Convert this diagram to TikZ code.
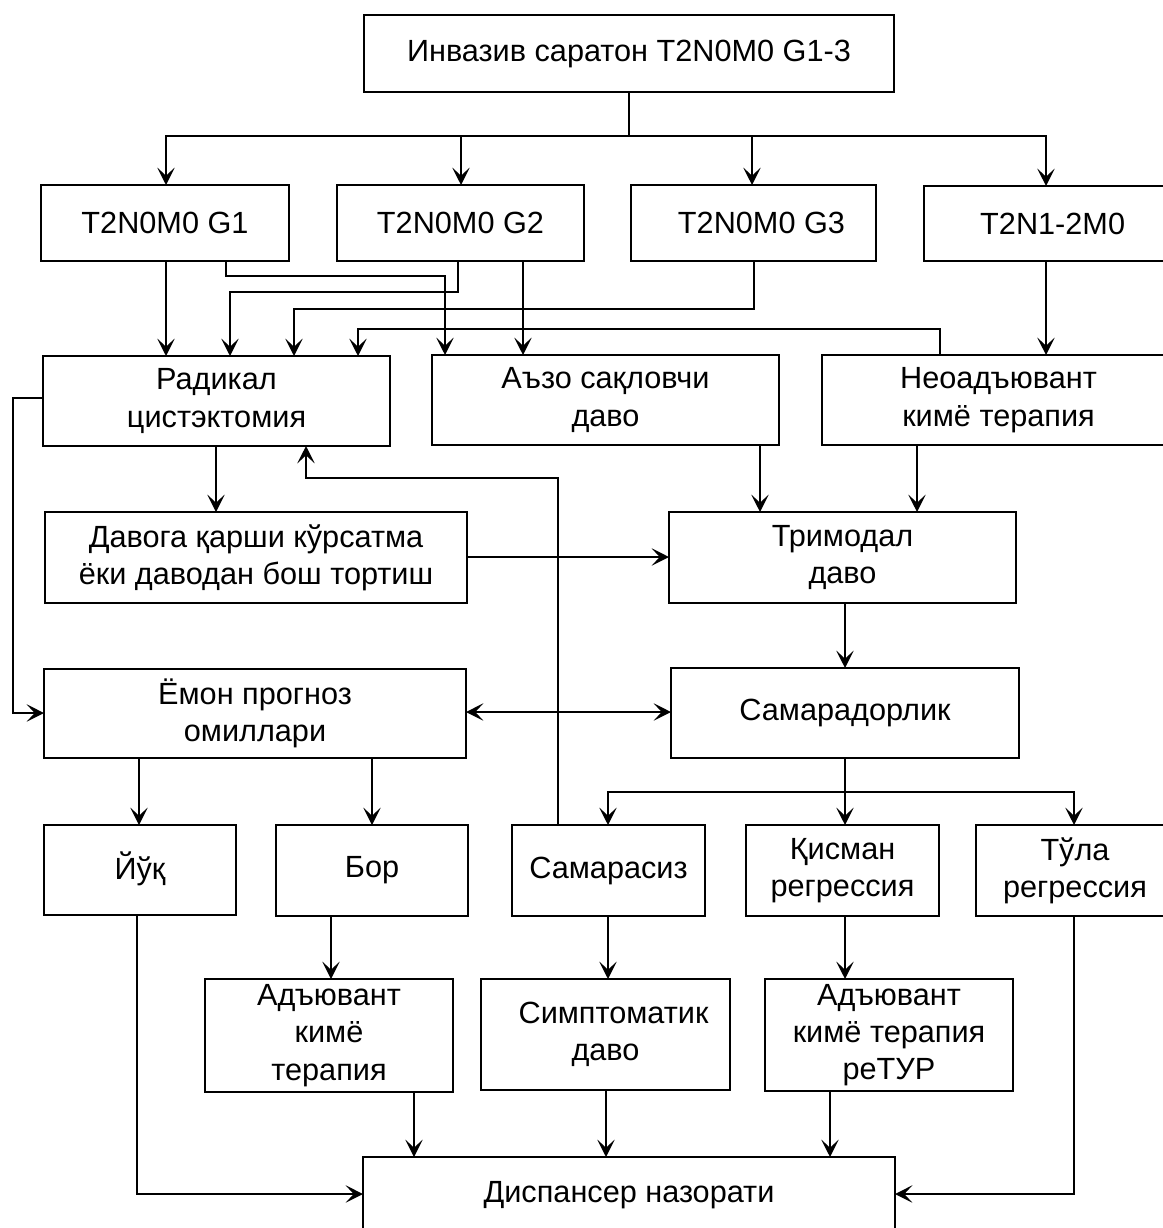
\documentclass[tikz,border=0pt]{standalone}
\usepackage{fontspec}
\setmainfont{Liberation Sans}
\usetikzlibrary{arrows.meta}
\newcommand\bx[7][]{\node[box,#1,minimum width={(#5-#3)*0.75pt},minimum height={(#6-#4)*0.75pt}] (#2) at ({(#3+#5)/2},{(#4+#6)/2}) {#7};}
\begin{document}
\begin{tikzpicture}[x=0.75pt,y=-0.75pt,
  tip/.tip={Stealth[length=13pt,width=13pt,inset=6pt]},
  box/.style={draw,line width=1.9pt,inner sep=0pt,outer sep=0pt,align=center,
    font=\fontsize{23pt}{28pt}\selectfont},
  arr/.style={line width=1.7pt,-tip},
  arrtwo/.style={line width=1.7pt,tip-tip},
  ln/.style={line width=1.7pt}]
\useasboundingbox (0,0) rectangle (1163,1228);
\clip (0,0) rectangle (1163,1228);
\bx{top}{364}{15}{894}{92}{Инвазив саратон T2N0M0 G1-3}
\bx{g1}{41}{185}{289}{261}{T2N0M0 G1}
\bx{g2}{337}{185}{584}{261}{T2N0M0 G2}
\bx{g3}{631}{185}{876}{261}{\hspace*{12pt}T2N0M0 G3}
\bx{n12}{924}{186}{1168}{261}{\hspace*{10pt}T2N1-2M0}
\bx{rad}{43}{356}{390}{446}{Радикал\\цистэктомия}
\bx{azo}{432}{355}{779}{445}{Аъзо сақловчи\\даво}
\bx{neo}{822}{355}{1175}{445}{Неоадъювант\\кимё терапия}
\bx{dav}{45}{512}{467}{603}{Давога қарши кўрсатма\\ёки даводан бош тортиш}
\bx{tri}{669}{512}{1016}{603}{Тримодал\\даво}
\bx{emon}{44}{669}{466}{758}{Ёмон прогноз\\омиллари}
\bx{sam}{671}{668}{1019}{758}{\raisebox{4pt}{Самарадорлик}}
\bx{yuq}{44}{825}{236}{915}{\raisebox{6pt}{Йўқ}}
\bx{bor}{276}{825}{468}{916}{Бор}
\bx{samsiz}{512}{825}{705}{916}{Самарасиз}
\bx{qis}{746}{825}{939}{916}{Қисман\\регрессия}
\bx{tula}{976}{825}{1174}{916}{Тўла\\регрессия}
\bx{adj}{205}{979}{453}{1092}{Адъювант\\кимё\\терапия}
\bx{sym}{481}{979}{730}{1090}{\hspace*{12pt}Симптоматик\\даво}
\bx{adjr}{765}{979}{1013}{1091}{Адъювант\\кимё терапия\\реТУР}
\bx{disp}{363}{1157}{895}{1240}{\raisebox{10pt}{Диспансер назорати}}
% top bus
\coordinate (busa) at (629,136);
\draw[ln] (top.south) -- (busa);
\draw[ln] (166,136) -- (1046,136);
\draw[arr] (busa) -| (g1.north -| 166,0);
\draw[arr] (busa) -| (g2.north -| 461,0);
\draw[arr] (busa) -| (g3.north -| 752,0);
\draw[arr] (busa) -| (n12.north -| 1046,0);
% row 2 to row 3
\draw[arr] (g1.south -| 166,0) -- (rad.north -| 166,0);
\draw[arr] (g1.south -| 226,0) |- (445,276) -- (azo.north -| 445,0);
\draw[arr] (g2.south -| 458,0) |- (230,292) -- (rad.north -| 230,0);
\draw[arr] (g2.south -| 523,0) -- (azo.north -| 523,0);
\draw[arr] (g3.south -| 754,0) |- (294,309) -- (rad.north -| 294,0);
\draw[arr] (neo.north -| 940,0) |- (358,329) -- (rad.north -| 358,0);
\draw[arr] (n12.south -| 1046,0) -- (neo.north -| 1046,0);
% left feedback
\draw[arr] (rad.west |- 0,398) -| (13,713) -- (emon.west |- 0,713);
\draw[arr] (rad.south -| 216,0) -- (dav.north -| 216,0);
\draw[arr] (samsiz.north -| 558,0) |- (306,478) -- (rad.south -| 306,0);
\draw[arr] (dav.east |- 0,557) -- (tri.west |- 0,557);
\draw[arr] (azo.south -| 760,0) -- (tri.north -| 760,0);
\draw[arr] (neo.south -| 917,0) -- (tri.north -| 917,0);
\draw[arr] (tri.south -| 845,0) -- (sam.north -| 845,0);
\draw[arrtwo] (emon.east |- 0,712) -- (sam.west |- 0,712);
\draw[arr] (emon.south -| 139,0) -- (yuq.north -| 139,0);
\draw[arr] (emon.south -| 372,0) -- (bor.north -| 372,0);
% second bus
\coordinate (busb) at (845,792);
\draw[ln] (sam.south -| 845,0) -- (busb);
\draw[arr] (busb) -| (samsiz.north -| 608,0);
\draw[arr] (busb) -- (qis.north -| 845,0);
\draw[arr] (busb) -| (tula.north -| 1074,0);
% lower
\draw[arr] (yuq.south -| 137,0) |- (disp.west |- 0,1194);
\draw[arr] (bor.south -| 331,0) -- (adj.north -| 331,0);
\draw[arr] (samsiz.south -| 608,0) -- (sym.north -| 608,0);
\draw[arr] (qis.south -| 845,0) -- (adjr.north -| 845,0);
\draw[arr] (adj.south -| 414,0) -- (disp.north -| 414,0);
\draw[arr] (sym.south -| 606,0) -- (disp.north -| 606,0);
\draw[arr] (adjr.south -| 830,0) -- (disp.north -| 830,0);
\draw[arr] (tula.south -| 1074,0) |- (disp.east |- 0,1194);
\end{tikzpicture}
\end{document}
